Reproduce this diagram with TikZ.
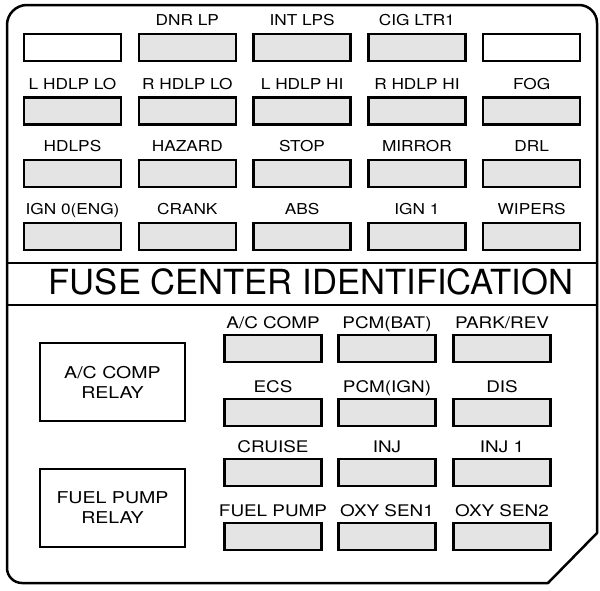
\documentclass[tikz,border=0pt]{standalone}
\usepackage{fontspec}
\setmainfont{TeX Gyre Heros}
\usetikzlibrary{calc}
\definecolor{fusegray}{RGB}{228,228,228}
\newcommand\fcstr[2]{\scalebox{#1}[1]{#2}}
\begin{document}
\begin{tikzpicture}[x=1pt,y=-1pt,
  framestyle/.style={line width=2.5pt, line join=round},
  fuse/.style={draw, line width=2.4pt, fill=fusegray, minimum width=97pt, minimum height=27pt, inner sep=0pt},
  blankfuse/.style={fuse, fill=white},
  relay/.style={draw, line width=2.2pt, fill=white, minimum width=145pt, minimum height=78pt, inner sep=0pt,
    align=center, font=\fontsize{16.3}{20}\selectfont},
  toplab/.style={anchor=base, inner sep=0pt, font=\fontsize{15}{15}\selectfont},
  lowlab/.style={anchor=base, inner sep=0pt, font=\fontsize{16}{16}\selectfont},
  titlestyle/.style={anchor=base, inner sep=0pt, font=\fontsize{34.6}{35}\selectfont}]
\useasboundingbox (0,0) rectangle (600,590);
\fill[white] (0,0) rectangle (600,590);

% outer frame
\draw[framestyle] (7,568) -- (7,25) arc[start angle=180, end angle=270, radius=20]
  -- (579,5) arc[start angle=270, end angle=360, radius=18]
  -- (597,533) -- (548,583) -- (22,583) arc[start angle=90, end angle=180, radius=15] -- cycle;

% title band
\coordinate (d1l) at (7,263); \coordinate (d1r) at (597,263);
\coordinate (d2l) at (7,305); \coordinate (d2r) at (597,305);
\draw[framestyle] (d1l) -- (d1r);
\draw[framestyle] (d2l) -- (d2r);
\node[titlestyle] (title) at (311,294.5) {FUSE CENTER IDENTIFICATION};

% upper fuses
\node[blankfuse] (t11) at (72.5,47.5) {};
\node[blankfuse] (t15) at (531.7,47.5) {};
\foreach \c in {2,3,4}
  \node[fuse] (t1\c) at ({72.5+114.8*(\c-1)},47.5) {};
\foreach \r/\yy in {2/111,3/173.5,4/236.5}
  \foreach \c in {1,...,5}
    \node[fuse] (t\r\c) at ({72.5+114.8*(\c-1)},\yy) {};

\foreach \r/\c/\t in {1/2/DNR LP, 1/3/INT LPS, 1/4/CIG LTR1,
  2/1/L HDLP LO, 2/2/R HDLP LO, 2/3/L HDLP HI, 2/4/R HDLP HI, 2/5/FOG,
  3/1/HDLPS, 3/2/HAZARD, 3/3/STOP, 3/4/MIRROR, 3/5/DRL,
  4/1/IGN 0(ENG), 4/2/CRANK, 4/3/ABS, 4/4/IGN 1, 4/5/WIPERS}
  \node[toplab] (lt\r\c) at ($(t\r\c.north)+(0,-7)$) {\fcstr{1.15}{\t}};

% relays
\node[relay] (acrelay) at (112.5,382) {\fcstr{1.2}{A/C COMP}\\\fcstr{1.2}{RELAY}};
\node[relay] (fprelay) at (112.5,508) {\fcstr{1.2}{FUEL PUMP}\\\fcstr{1.2}{RELAY}};

% lower fuses
\foreach \r/\yy in {1/348.5,2/412.5,3/472.5,4/536.5}
  \foreach \c/\xx in {1/273,2/387,3/502}
    \node[fuse] (b\r\c) at (\xx,\yy) {};

\foreach \r/\c/\t in {1/1/{A/C COMP}, 1/2/PCM(BAT), 1/3/{PARK/REV},
  2/1/ECS, 2/2/PCM(IGN), 2/3/DIS,
  3/1/CRUISE, 3/2/INJ, 3/3/INJ 1,
  4/1/FUEL PUMP, 4/2/OXY SEN1, 4/3/OXY SEN2}
  \node[lowlab] (lb\r\c) at ($(b\r\c.north)+(0,-5.5)$) {\fcstr{1.18}{\t}};
\end{tikzpicture}
\end{document}
